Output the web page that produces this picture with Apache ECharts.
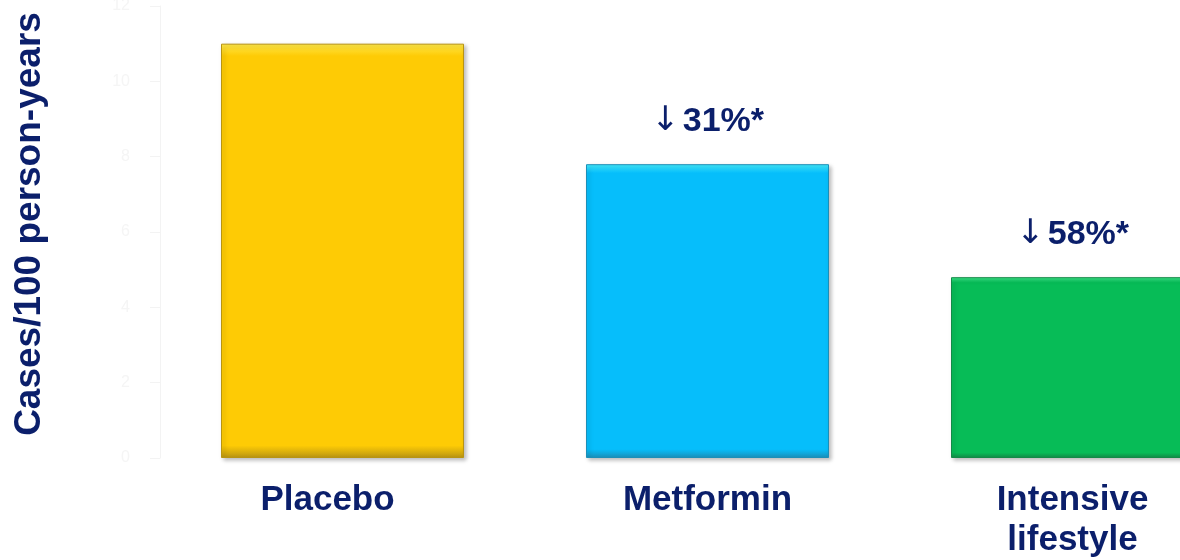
<!DOCTYPE html>
<html>
<head>
<meta charset="utf-8">
<script src="https://cdn.jsdelivr.net/npm/echarts@6/dist/echarts.min.js"></script>
<style>html,body{margin:0;padding:0;background:#fff;}#c{width:1180px;height:560px;}</style>
</head>
<body>
<div id="c"></div>
<script>
var categories = ['Placebo', 'Metformin', 'Intensive\nlifestyle'];
var values = [11.0, 7.8, 4.8];
var reductions = ['', '31%*', '58%*'];
var barColors = ['#FECB05', '#06BEFB', '#07BC57'];
var barEdges = ['#B89412', '#1C8FB8', '#138A47'];
var barTops = ['#FFE84A', '#45EEFF', '#3CE88A'];
var yTicks = [0, 2, 4, 6, 8, 10, 12];

var navy = '#0B1F6B';
var labelPads = [[0, 30, 0, 0], [0, 0, 0, 0], [0, 0, 0, 0]];
var chart = echarts.init(document.getElementById('c'));
chart.setOption({
  animation: false,
  grid: { left: 160, right: -75, top: 6, bottom: 102, outerBoundsMode: 'none', containLabel: false },
  xAxis: {
    type: 'category',
    data: categories.map(function (c, i) {
      return { value: c, textStyle: { padding: labelPads[i] } };
    }),
    axisLine: { show: false },
    axisTick: { show: false },
    axisLabel: {
      color: navy, fontFamily: 'Liberation Sans, Arial, sans-serif',
      fontWeight: 'bold', fontSize: 35, lineHeight: 40, margin: 22
    }
  },
  yAxis: {
    type: 'value',
    min: yTicks[0], max: yTicks[yTicks.length - 1], interval: 2,
    name: 'Cases/100 person-years',
    nameLocation: 'middle', nameRotate: 90, nameGap: 112,
    nameTextStyle: { color: navy, fontFamily: 'Liberation Sans, Arial, sans-serif', fontWeight: 'bold', fontSize: 37, padding: [0, 0, 0, 16] },
    axisLine: { show: true, lineStyle: { color: '#f3f3f3', width: 1 } },
    axisTick: { show: true, length: 10, lineStyle: { color: '#f3f3f3' } },
    splitLine: { show: false },
    axisLabel: { color: '#f5f5f5', fontSize: 16, margin: 30, fontFamily: 'Liberation Sans, Arial, sans-serif' }
  },
  series: [{
    type: 'bar',
    barWidth: 243,
    data: values.map(function (v, i) {
      return {
        value: v,
        itemStyle: {
          color: {
            type: 'linear', x: 0, y: 0, x2: 0, y2: 1,
            colorStops: [
              { offset: 0, color: barTops[i] },
              { offset: 0.03, color: barColors[i] },
              { offset: 0.97, color: barColors[i] },
              { offset: 1, color: barEdges[i] }
            ]
          },
          borderColor: barEdges[i], borderWidth: 1,
          shadowColor: 'rgba(0,0,0,0.25)', shadowBlur: 4, shadowOffsetX: 2, shadowOffsetY: 2
        },
        label: {
          show: reductions[i] !== '',
          position: 'top', distance: 26,
          formatter: '{a|\u2193} {b|' + reductions[i] + '}',
          rich: {
            a: { color: navy, fontSize: 34, fontFamily: 'DejaVu Sans, sans-serif', fontWeight: 'normal' },
            b: { color: navy, fontSize: 34, fontFamily: 'Liberation Sans, Arial, sans-serif', fontWeight: 'bold' }
          }
        }
      };
    })
  }]
});
</script>
</body>
</html>
